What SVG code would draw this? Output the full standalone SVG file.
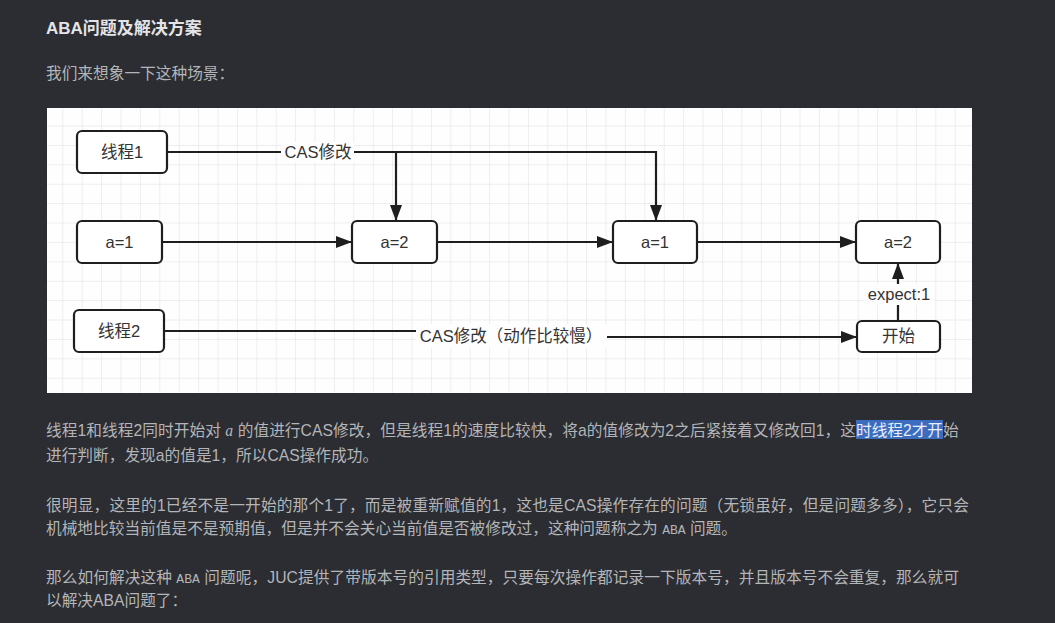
<svg xmlns="http://www.w3.org/2000/svg" width="1055" height="623" viewBox="0 0 1055 623">
<style>
.bg{fill:#2b2d32}
.h1{font-family:"Liberation Sans","Noto Sans CJK SC",sans-serif;font-size:17px;font-weight:bold;fill:#e4e4e6}
.p{font-family:"Liberation Sans","Noto Sans CJK SC",sans-serif;font-size:15.7px;fill:#b4b5b8}
.mono{font-family:"Liberation Mono","DejaVu Sans Mono",monospace;font-size:13px}
.box{fill:#ffffff;stroke:#1e1e1e;stroke-width:2.2}
.lbl{font-family:"Liberation Sans","Noto Sans CJK SC",sans-serif;font-size:16.5px;fill:#333;text-anchor:middle}
.edge{fill:none;stroke:#1e1e1e;stroke-width:2.2}
.lblbg{fill:#fefefe}
</style>
<defs>
<pattern id="grid" x="43.9" y="107.1" width="19.4" height="19.4" patternUnits="userSpaceOnUse">
<path d="M19.4 0 V19.4 M0 19.4 H19.4" fill="none" stroke="#dedede" stroke-width="1"/>
</pattern>
<marker id="arr" markerUnits="userSpaceOnUse" markerWidth="17" markerHeight="12" refX="16" refY="6" orient="auto">
<path d="M0 0 L16 6 L0 12 z" fill="#1e1e1e"/>
</marker>
</defs>
<rect class="bg" x="0" y="0" width="1055" height="623"/>
<text class="h1" x="46" y="34">ABA问题及解决方案</text>
<text class="p" x="46" y="79">我们来想象一下这种场景：</text>

<rect x="47" y="108" width="925" height="285" fill="#fefefe"/>
<rect x="47" y="108" width="925" height="285" fill="url(#grid)"/>

<g id="connectors">
<path class="edge" d="M167 152 H656 V221" marker-end="url(#arr)"/>
<path class="edge" d="M396 152 V221" marker-end="url(#arr)"/>
<rect class="lblbg" x="281" y="142" width="73" height="20"/>
<text class="lbl" x="318" y="158">CAS修改</text>
<path class="edge" d="M162 242 H352" marker-end="url(#arr)"/>
<path class="edge" d="M437 242 H613" marker-end="url(#arr)"/>
<path class="edge" d="M697 242 H856" marker-end="url(#arr)"/>
<path class="edge" d="M164 331 H511 V337 H857" marker-end="url(#arr)"/>
<rect class="lblbg" x="416" y="324" width="191" height="24"/>
<text class="lbl" x="511" y="342">CAS修改（动作比较慢）</text>
<path class="edge" d="M898 321 V263" marker-end="url(#arr)"/>
<rect class="lblbg" x="864" y="284" width="70" height="21"/>
<text class="lbl" x="899" y="300">expect:1</text>
</g>

<g id="thread1"><rect class="box" x="77" y="131" width="90" height="42" rx="5"/><text class="lbl" x="122" y="158">线程1</text></g>
<g id="a1-left"><rect class="box" x="77" y="221" width="85" height="42" rx="5"/><text class="lbl" x="119.5" y="248">a=1</text></g>
<g id="a2-mid"><rect class="box" x="352" y="221" width="85" height="42" rx="5"/><text class="lbl" x="394.5" y="248">a=2</text></g>
<g id="a1-mid"><rect class="box" x="613" y="221" width="84" height="42" rx="5"/><text class="lbl" x="655" y="248">a=1</text></g>
<g id="a2-right"><rect class="box" x="856" y="221" width="84" height="42" rx="5"/><text class="lbl" x="898" y="248">a=2</text></g>
<g id="thread2"><rect class="box" x="74" y="310" width="90" height="42" rx="5"/><text class="lbl" x="119" y="337">线程2</text></g>
<g id="start"><rect class="box" x="857" y="321" width="83" height="31" rx="5"/><text class="lbl" x="898.5" y="342">开始</text></g>

<rect x="856" y="420" width="87" height="19" fill="#3b6cbf"/>
<text class="p" x="46" y="436" textLength="810" lengthAdjust="spacing">线程1和线程2同时开始对 <tspan font-family="Liberation Serif" font-style="italic">a</tspan> 的值进行CAS修改，但是线程1的速度比较快，将a的值修改为2之后紧接着又修改回1，这</text>
<text class="p" x="856" y="436" textLength="87" lengthAdjust="spacing" style="fill:#e8eef8">时线程2才开</text>
<text class="p" x="943" y="436">始</text>
<text class="p" x="46" y="461">进行判断，发现a的值是1，所以CAS操作成功。</text>

<text class="p" x="46" y="511" textLength="923" lengthAdjust="spacing">很明显，这里的1已经不是一开始的那个1了，而是被重新赋值的1，这也是CAS操作存在的问题（无锁虽好，但是问题多多），它只会</text>
<text class="p" x="46" y="534">机械地比较当前值是不是预期值，但是并不会关心当前值是否被修改过，这种问题称之为 <tspan class="mono">ABA</tspan> 问题。</text>

<text class="p" x="46" y="583" textLength="913" lengthAdjust="spacing">那么如何解决这种 <tspan class="mono">ABA</tspan> 问题呢，JUC提供了带版本号的引用类型，只要每次操作都记录一下版本号，并且版本号不会重复，那么就可</text>
<text class="p" x="46" y="606">以解决ABA问题了：</text>
</svg>
